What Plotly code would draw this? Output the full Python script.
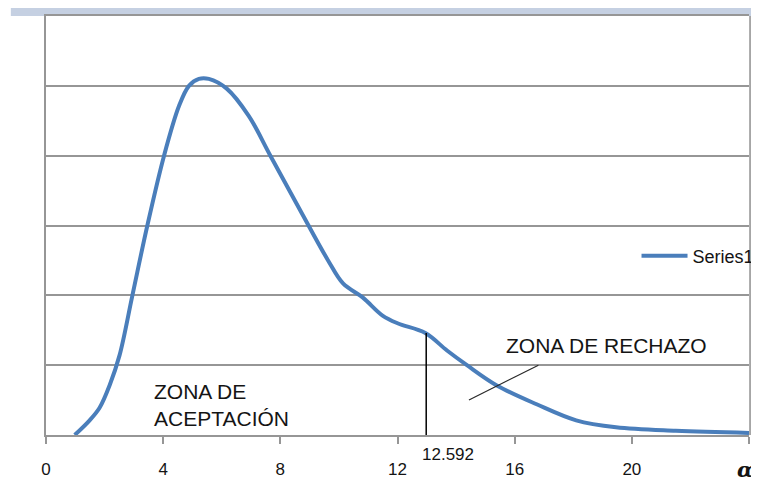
import plotly.graph_objects as go

# --- data ---
x_vals = [0.98, 1.49, 1.83, 2.17, 2.51, 2.95, 3.46, 4.03, 4.54, 4.88, 5.22, 5.56,
          6.17, 6.92, 7.66, 8.78, 9.63, 10.14, 10.81, 11.49, 12.0, 12.95, 13.69,
          14.37, 15.39, 16.75, 18.1, 19.46, 21.5, 24.0]
y_vals = [0.0, 0.21, 0.39, 0.71, 1.14, 2.0, 3.0, 4.0, 4.71, 5.0, 5.1, 5.1,
          4.96, 4.57, 4.0, 3.14, 2.5, 2.17, 1.97, 1.71, 1.6, 1.46, 1.21,
          1.0, 0.71, 0.44, 0.21, 0.11, 0.06, 0.03]
series_name = "Series1"
x_tick_vals = [0, 4, 8, 12, 16, 20, 24]
x_tick_text = ["0", "4", "8", "12", "16", "20", ""]
critical_label = "12.592"
critical_line_x = 12.98
critical_height = 1.46
pointer_x = [14.44, 16.81]
pointer_y = [0.5, 1.0]

blue = "rgb(74,126,187)"
grid = "rgb(150,150,150)"
txt = "rgb(20,20,20)"

fig = go.Figure()
fig.add_trace(go.Scatter(x=x_vals, y=y_vals, mode="lines", name=series_name,
                         line=dict(color=blue, width=4, shape="spline", smoothing=1.0)))

# critical value line
fig.add_shape(type="line", x0=critical_line_x, x1=critical_line_x, y0=0, y1=critical_height,
              line=dict(color="black", width=1.5), layer="above")
# pointer line for rejection zone
fig.add_shape(type="line", x0=pointer_x[0], x1=pointer_x[1], y0=pointer_y[0], y1=pointer_y[1],
              line=dict(color="rgb(40,40,40)", width=1.2), layer="above")

# top band
fig.add_shape(type="rect", xref="paper", yref="paper", x0=-0.05, x1=1.02, y0=1.0, y1=1.019,
              fillcolor="rgb(197,208,226)", line=dict(width=0), layer="below")
# right border (thick)
fig.add_shape(type="line", xref="paper", yref="paper", x0=1.003, x1=1.003, y0=0, y1=1.0,
              line=dict(color="rgb(166,166,166)", width=4))

fig.add_annotation(x=critical_line_x, y=0, yref="y", text=critical_label, showarrow=False,
                   xanchor="left", xshift=-6, yshift=-19,
                   font=dict(size=17, color=txt, family="Liberation Sans"))
fig.add_annotation(x=24, xref="x", y=0, text="<b><i>α</i></b>", showarrow=False,
                   yshift=-34, xshift=-4, font=dict(size=21, color=txt, family="DejaVu Serif"))
fig.add_annotation(x=3.63, y=0.436, text="ZONA DE<br>ACEPTACIÓN", showarrow=False,
                   xanchor="left", yanchor="middle", align="left",
                   font=dict(size=21, color=txt, family="Liberation Sans"))
fig.add_annotation(x=15.63, y=1.28, text="ZONA DE RECHAZO", showarrow=False,
                   xanchor="left", yanchor="middle", align="left",
                   font=dict(size=21, color=txt, family="Liberation Sans"))

fig.update_layout(
    width=751, height=475,
    margin=dict(l=38, r=10, t=8, b=48, autoexpand=False),
    paper_bgcolor="white", plot_bgcolor="white",
    showlegend=True,
    legend=dict(x=0.840, y=0.427, xanchor="left", yanchor="middle",
                font=dict(size=18, color=txt, family="Liberation Sans"),
                bgcolor="rgba(0,0,0,0)", itemwidth=46),
    font=dict(family="Liberation Sans", color=txt),
)
fig.update_xaxes(range=[0, 24], tickvals=x_tick_vals, ticktext=x_tick_text,
                 ticks="outside", ticklen=7, tickcolor=grid, tickwidth=1.5,
                 showline=True, linecolor=grid, linewidth=2, mirror=True,
                 showgrid=False, zeroline=False, ticklabelstandoff=11, automargin=False,
                 tickfont=dict(size=17, color=txt, family="Liberation Sans"))
fig.update_yaxes(range=[0, 6], dtick=1, showticklabels=False, ticks="",
                 showgrid=True, gridcolor=grid, gridwidth=1.5,
                 showline=True, linecolor=grid, linewidth=2,
                 zeroline=False, automargin=False)

fig.write_html("out.html")
